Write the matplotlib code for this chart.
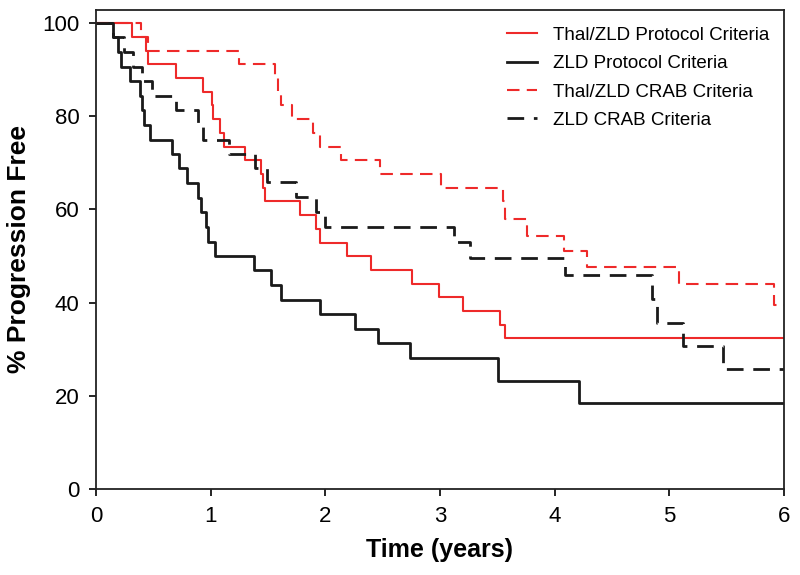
import matplotlib
matplotlib.use('Agg')
import matplotlib.pyplot as plt

plt.rcParams['font.family'] = ['Liberation Sans', 'DejaVu Sans']

# Kaplan-Meier steps: (event time in years, % progression free)
thal_protocol_t = [0, 0.31, 0.44, 0.45, 0.70, 0.93, 1.01, 1.02, 1.08, 1.12, 1.30, 1.44, 1.46, 1.47,
                   1.78, 1.92, 1.95, 2.19, 2.40, 2.76, 2.99, 3.20, 3.52, 3.57, 6.0]
thal_protocol_s = [100, 97.1, 94.1, 91.2, 88.2, 85.3, 82.4, 79.4, 76.5, 73.5, 70.6, 67.6, 64.7, 61.8,
                   58.8, 55.9, 52.9, 50.0, 47.1, 44.1, 41.2, 38.2, 35.3, 32.4, 32.4]

zld_protocol_t = [0, 0.15, 0.19, 0.22, 0.30, 0.38, 0.40, 0.42, 0.47, 0.66, 0.72, 0.79, 0.89, 0.92,
                  0.96, 0.98, 1.04, 1.38, 1.53, 1.61, 1.95, 2.26, 2.46, 2.74, 3.51, 4.21, 6.0]
zld_protocol_s = [100, 96.9, 93.8, 90.6, 87.5, 84.4, 81.3, 78.1, 75.0, 71.9, 68.8, 65.6, 62.5, 59.4,
                  56.3, 53.1, 50.0, 46.9, 43.8, 40.6, 37.5, 34.4, 31.3, 28.1, 23.2, 18.5, 18.5]

thal_crab_t = [0, 0.39, 0.45, 1.25, 1.56, 1.59, 1.61, 1.71, 1.89, 1.95, 2.14, 2.48, 3.01, 3.55,
               3.57, 3.76, 4.08, 4.28, 5.08, 5.91, 6.0]
thal_crab_s = [100, 97.1, 94.1, 91.2, 88.2, 85.3, 82.4, 79.4, 76.5, 73.5, 70.6, 67.6, 64.7, 61.8,
               58.0, 54.3, 51.0, 47.6, 43.9, 39.5, 39.5]

zld_crab_t = [0, 0.15, 0.24, 0.32, 0.40, 0.49, 0.70, 0.89, 0.93, 1.16, 1.39, 1.49, 1.74, 1.92,
              2.00, 3.12, 3.26, 4.09, 4.85, 4.89, 5.12, 5.47, 6.0]
zld_crab_s = [100, 96.9, 93.8, 90.6, 87.5, 84.4, 81.3, 78.1, 75.0, 72.0, 68.9, 65.8, 62.7, 59.4,
              56.2, 53.0, 49.6, 45.9, 40.7, 35.7, 30.7, 25.7, 25.7]

x_ticks = [0, 1, 2, 3, 4, 5, 6]
y_ticks = [0, 20, 40, 60, 80, 100]

red = '#ee2a2a'
black = '#1a1a1a'
dash = (6, 3.5)

fig = plt.figure(figsize=(8, 5.75), dpi=100)
ax = fig.add_axes([0.12, 0.1496, 0.86, 0.833])

ax.step(thal_protocol_t, thal_protocol_s, where='post', color=red, lw=1.5,
        label='Thal/ZLD Protocol Criteria')
ax.step(zld_protocol_t, zld_protocol_s, where='post', color=black, lw=2.0,
        label='ZLD Protocol Criteria')
ax.step(thal_crab_t, thal_crab_s, where='post', color=red, lw=1.5, dashes=dash,
        label='Thal/ZLD CRAB Criteria')
ax.step(zld_crab_t, zld_crab_s, where='post', color=black, lw=2.0, dashes=dash,
        label='ZLD CRAB Criteria')

ax.set_xlim(0, 6)
ax.set_ylim(0, 102.8)
ax.set_xticks(x_ticks)
ax.set_yticks(y_ticks)
ax.tick_params(direction='out', length=5, width=1.2, labelsize=16, pad=7)
for sp in ax.spines.values():
    sp.set_linewidth(1.3)
    sp.set_color('#222222')

ax.set_xlabel('Time (years)', fontsize=18, fontweight='bold', labelpad=8)
ax.set_ylabel('% Progression Free', fontsize=19, fontweight='bold', labelpad=8)

ax.legend(loc='upper left', bbox_to_anchor=(0.597, 0.965), frameon=False,
          fontsize=13.5, handlelength=1.6, handletextpad=0.85, labelspacing=0.6,
          borderpad=0, borderaxespad=0)

plt.savefig('out.png', dpi=100)
plt.close()
